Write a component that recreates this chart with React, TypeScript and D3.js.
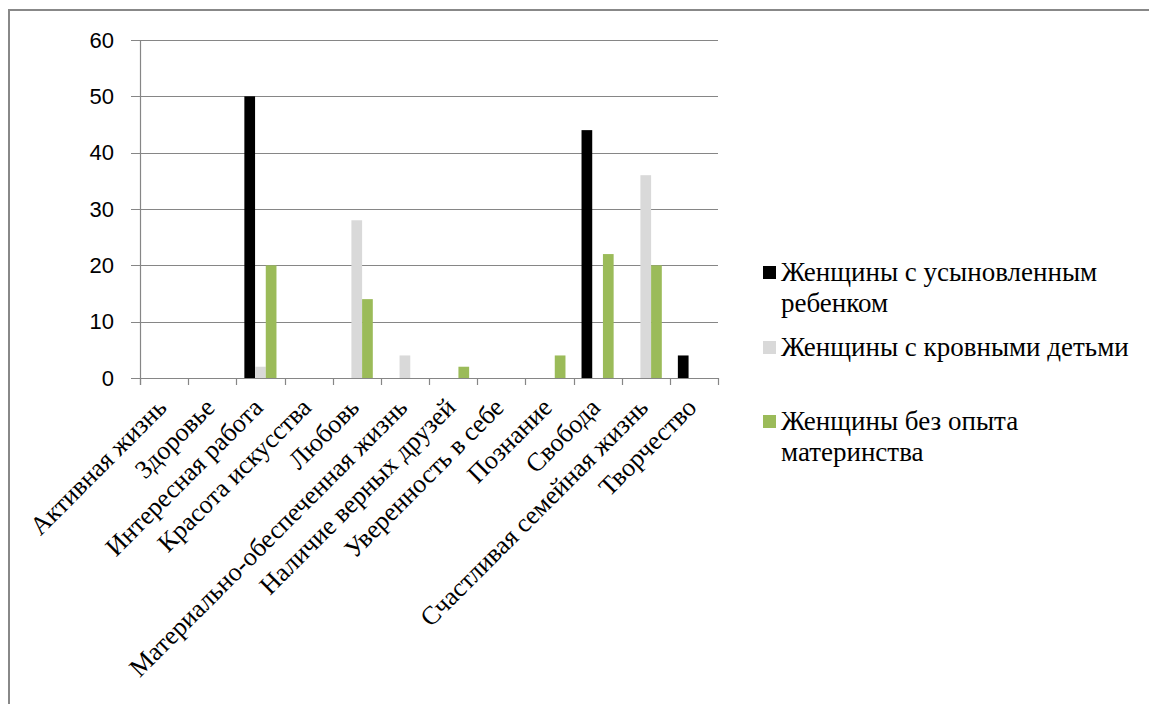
import * as d3 from "d3";

const categories = [
  "Активная жизнь",
  "Здоровье",
  "Интересная работа",
  "Красота искусства",
  "Любовь",
  "Материально-обеспеченная жизнь",
  "Наличие верных друзей",
  "Уверенность в себе",
  "Познание",
  "Свобода",
  "Счастливая семейная жизнь",
  "Творчество",
];

const seriesNames = [
  "Женщины с усыновленным ребенком",
  "Женщины с кровными детьми",
  "Женщины без опыта материнства",
];

const adopted = [0, 0, 50, 0, 0, 0, 0, 0, 0, 44, 0, 4];
const biological = [0, 0, 2, 0, 28, 4, 0, 0, 0, 0, 36, 0];
const noChildren = [0, 0, 20, 0, 14, 0, 2, 0, 4, 22, 20, 0];

const yTicks = [0, 10, 20, 30, 40, 50, 60];

const colors = ["#000000", "#d9d9d9", "#9bbb59"];

// legend lines, wrapped like in the original
const legendLines = [
  ["Женщины с усыновленным", "ребенком"],
  ["Женщины с кровными детьми"],
  ["Женщины без опыта", "материнства"],
];

const serif = '"Liberation Serif"';
const sans = '"Liberation Sans"';

const width = 1149;
const height = 704;
const plot = { left: 140, right: 718, top: 40, bottom: 378 };
const gridColor = "#868686";

export default function App() {
  const x0 = d3.scaleBand().domain(categories).range([plot.left, plot.right]).padding(0);
  const x1 = d3
    .scaleBand()
    .domain(seriesNames)
    .range([0, x0.bandwidth()])
    .paddingInner(0)
    .paddingOuter(0.75);
  const y = d3.scaleLinear().domain([0, 60]).range([plot.bottom, plot.top]);

  const seriesValues = [adopted, biological, noChildren];
  const boundaries = categories.map((c) => x0(c) ?? 0).concat([plot.right]);
  const legendY = [281, 356, 430];

  return (
    <svg
      width={width}
      height={height}
      style={{ position: "absolute", left: 0, top: 0, background: "#fff" }}
    >
      {/* outer frame, top and left edges */}
      <path
        d={`M9,${height} L9,10 L${width},10`}
        fill="none"
        stroke="#888"
        strokeWidth={2}
      />

      {/* gridlines with left tick stubs */}
      {yTicks.map((t) => (
        <line
          key={"g" + t}
          x1={plot.left - 9}
          x2={plot.right}
          y1={Math.round(y(t)) + 0.5}
          y2={Math.round(y(t)) + 0.5}
          stroke={gridColor}
          strokeWidth={1.2}
        />
      ))}

      {/* y axis */}
      <line
        x1={plot.left + 0.5}
        x2={plot.left + 0.5}
        y1={plot.top}
        y2={plot.bottom + 7}
        stroke={gridColor}
        strokeWidth={1.2}
      />

      {/* x ticks between categories */}
      {boundaries.map((b, i) => (
        <line
          key={"t" + i}
          x1={Math.round(b) + 0.5}
          x2={Math.round(b) + 0.5}
          y1={plot.bottom}
          y2={plot.bottom + 7}
          stroke={gridColor}
          strokeWidth={1.2}
        />
      ))}

      {yTicks.map((t) => (
        <text
          key={"l" + t}
          x={114}
          y={y(t)}
          dy="0.35em"
          textAnchor="end"
          style={{ fontFamily: sans, fontSize: 22 }}
          fill="#000"
        >
          {t}
        </text>
      ))}

      {seriesValues.map((values, si) =>
        values.map((v, i) => (
          <rect
            key={`b${si}-${i}`}
            x={(x0(categories[i]) ?? 0) + (x1(seriesNames[si]) ?? 0)}
            width={x1.bandwidth()}
            y={y(v)}
            height={plot.bottom - y(v)}
            fill={colors[si]}
          />
        ))
      )}

      {categories.map((c) => {
        const cx = (x0(c) ?? 0) + x0.bandwidth() / 2 + 4;
        return (
          <text
            key={"c" + c}
            textAnchor="end"
            transform={`translate(${cx},${plot.bottom + 31}) rotate(-45)`}
            style={{ fontFamily: serif, fontSize: 26 }}
            fill="#000"
          >
            {c}
          </text>
        );
      })}

      {legendLines.map((lines, i) => (
        <g key={"lg" + i}>
          <rect x={763} y={legendY[i] - 15} width={13} height={13} fill={colors[i]} />
          <text x={781} y={legendY[i]} style={{ fontFamily: serif, fontSize: 27 }} fill="#000">
            {lines.map((line, li) => (
              <tspan key={li} x={781} dy={li === 0 ? 0 : 31}>
                {line}
              </tspan>
            ))}
          </text>
        </g>
      ))}
    </svg>
  );
}
